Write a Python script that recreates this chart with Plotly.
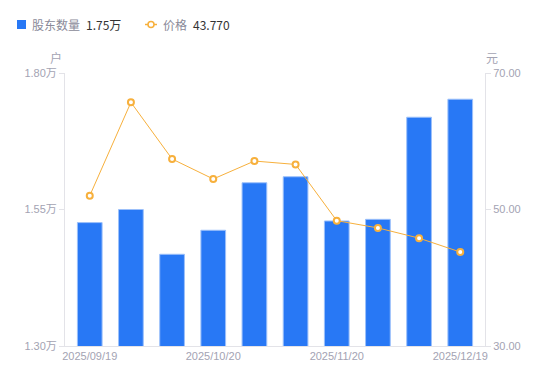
import plotly.graph_objects as go

dates = ["2025/09/19", "2025/09/30", "2025/10/10", "2025/10/20", "2025/10/31",
         "2025/11/10", "2025/11/20", "2025/11/28", "2025/12/10", "2025/12/19"]
holders = [1.526, 1.550, 1.468, 1.512, 1.599, 1.610, 1.529, 1.532, 1.719, 1.752]  # 万户
price = [52.02, 65.70, 57.40, 54.47, 57.10, 56.60, 48.36, 47.30, 45.80, 43.77]
x_tick_labels = ["2025/09/19", "2025/10/20", "2025/11/20", "2025/12/19"]
left_ticks = [1.30, 1.55, 1.80]
right_ticks = [30, 50, 70]

FONT = "Liberation Sans, Arial, Noto Sans CJK SC, sans-serif"
GRAY = "#a3a3b3"
AXIS = "#e3e3e8"
BLUE = "#2878f5"
ORANGE = "#f7b03c"

fig = go.Figure()
fig.add_trace(go.Bar(
    x=dates, y=holders, name="股东数量", yaxis="y",
    marker=dict(color=BLUE, line=dict(color="#9cc0fa", width=1)),
))
fig.add_trace(go.Scatter(
    x=dates, y=price, name="价格", yaxis="y2", mode="lines+markers",
    line=dict(color=ORANGE, width=1),
    marker=dict(size=6, color="white", line=dict(color=ORANGE, width=2)),
))

# page has an 8px body margin; compensate so the plot area sits at page x 65..485, y 73..346
fig.update_layout(
    width=542, height=373,
    margin=dict(l=57, r=65, t=65, b=35, autoexpand=False),
    paper_bgcolor="white", plot_bgcolor="white",
    showlegend=False,
    bargap=0.4,
    font=dict(family=FONT, size=11, color=GRAY),
    xaxis=dict(
        type="category", tickmode="array", tickvals=x_tick_labels, ticktext=x_tick_labels,
        showgrid=False, showline=True, linecolor=AXIS, linewidth=1,
        ticks="", tickfont=dict(size=11, color=GRAY), zeroline=False,
    ),
    yaxis=dict(
        range=[1.30, 1.80], tickmode="array", tickvals=left_ticks,
        ticktext=[f"{v:.2f}万" for v in left_ticks],
        showgrid=False, showline=True, linecolor=AXIS, linewidth=1,
        ticks="outside", ticklen=5, tickcolor=AXIS, zeroline=False,
        tickfont=dict(size=11, color=GRAY),
    ),
    yaxis2=dict(
        range=[30, 70], overlaying="y", side="right", tickmode="array",
        tickvals=right_ticks, ticktext=[f"{v:.2f}" for v in right_ticks],
        showgrid=False, showline=True, linecolor=AXIS, linewidth=1,
        ticks="outside", ticklen=5, tickcolor=AXIS, zeroline=False,
        tickfont=dict(size=11, color=GRAY),
    ),
)

# coordinates of page pixels mapped to paper fractions
def px_x(px):
    return (px - 65) / 420.0

def px_y(py):
    return (346 - py) / 273.0

# unit labels
fig.add_annotation(text="户", xref="paper", yref="paper", x=px_x(64), y=px_y(57),
                   xanchor="right", yanchor="middle", showarrow=False,
                   font=dict(size=12, color=GRAY, family="Noto Sans CJK SC"))
fig.add_annotation(text="元", xref="paper", yref="paper", x=px_x(484), y=px_y(57),
                   xanchor="left", yanchor="middle", showarrow=False,
                   font=dict(size=12, color=GRAY, family="Noto Sans CJK SC"))

# custom legend
fig.add_shape(type="rect", xref="paper", yref="paper",
              x0=px_x(17), x1=px_x(26), y0=px_y(29), y1=px_y(20),
              fillcolor=BLUE, line=dict(width=0))
fig.add_annotation(text="股东数量", xref="paper", yref="paper", x=px_x(30), y=px_y(24.5),
                   xanchor="left", yanchor="middle", showarrow=False,
                   font=dict(size=12, color="#8a8a99", family="Noto Sans CJK SC"))
fig.add_annotation(text=f"{holders[-1]:.2f}万", xref="paper", yref="paper", x=px_x(84), y=px_y(24.5),
                   xanchor="left", yanchor="middle", showarrow=False,
                   font=dict(size=12, color="#333333", family="Noto Sans CJK SC"))
fig.add_shape(type="line", xref="paper", yref="paper",
              x0=px_x(145), x1=px_x(157), y0=px_y(24.5), y1=px_y(24.5),
              line=dict(color=ORANGE, width=1.5))
fig.add_shape(type="circle", xref="paper", yref="paper",
              x0=px_x(148), x1=px_x(154), y0=px_y(27.5), y1=px_y(21.5),
              fillcolor="white", line=dict(color=ORANGE, width=1.5))
fig.add_annotation(text="价格", xref="paper", yref="paper", x=px_x(161), y=px_y(24.5),
                   xanchor="left", yanchor="middle", showarrow=False,
                   font=dict(size=12, color="#8a8a99", family="Noto Sans CJK SC"))
fig.add_annotation(text=f"{price[-1]:.3f}", xref="paper", yref="paper", x=px_x(191), y=px_y(24.5),
                   xanchor="left", yanchor="middle", showarrow=False,
                   font=dict(size=12, color="#333333", family="Noto Sans CJK SC"))

fig.write_html("out.html")
